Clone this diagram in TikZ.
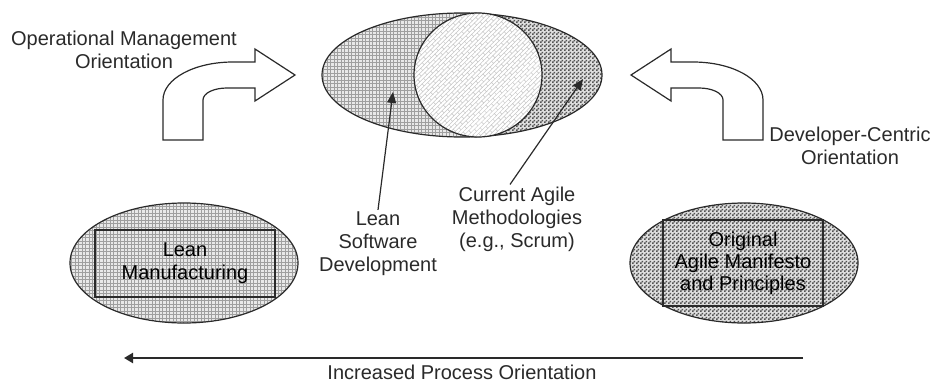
\documentclass[tikz,border=0pt]{standalone}
\usepackage{fontspec}
\setmainfont{Liberation Sans}
\usetikzlibrary{patterns,patterns.meta,arrows.meta}
\definecolor{ink}{HTML}{2A2A2A}
\pgfdeclarepattern{
  name=fgrid, type=uncolored,
  bottom left={\pgfpoint{-.5pt}{-.5pt}}, top right={\pgfpoint{4pt}{4pt}},
  tile size={\pgfpoint{3.5pt}{3.5pt}},
  code={\pgfsetlinewidth{0.9pt}
    \pgfpathmoveto{\pgfpoint{-.5pt}{1.75pt}}\pgfpathlineto{\pgfpoint{4pt}{1.75pt}}
    \pgfpathmoveto{\pgfpoint{1.75pt}{-.5pt}}\pgfpathlineto{\pgfpoint{1.75pt}{4pt}}
    \pgfusepath{stroke}}
}
\pgfdeclarepattern{
  name=fcheck, type=uncolored,
  bottom left={\pgfpoint{0pt}{0pt}}, top right={\pgfpoint{4pt}{4pt}},
  tile size={\pgfpoint{4pt}{4pt}},
  code={
    \pgfpathrectangle{\pgfpoint{0pt}{0pt}}{\pgfpoint{2pt}{2pt}}
    \pgfpathrectangle{\pgfpoint{2pt}{2pt}}{\pgfpoint{2pt}{2pt}}
    \pgfusepath{fill}}
}
\pgfdeclarepattern{
  name=dbricks, type=uncolored,
  bottom left={\pgfpoint{-.5pt}{-.5pt}}, top right={\pgfpoint{10.5pt}{6.5pt}},
  tile size={\pgfpoint{10pt}{6pt}},
  tile transformation={\pgftransformrotate{45}},
  code={\pgfsetlinewidth{0.5pt}
    \pgfpathmoveto{\pgfpoint{-.5pt}{0pt}}\pgfpathlineto{\pgfpoint{10.5pt}{0pt}}
    \pgfpathmoveto{\pgfpoint{-.5pt}{3pt}}\pgfpathlineto{\pgfpoint{10.5pt}{3pt}}
    \pgfpathmoveto{\pgfpoint{0pt}{0pt}}\pgfpathlineto{\pgfpoint{0pt}{3pt}}
    \pgfpathmoveto{\pgfpoint{5pt}{3pt}}\pgfpathlineto{\pgfpoint{5pt}{6pt}}
    \pgfusepath{stroke}}
}
\tikzset{
  txt/.style={align=center, text=ink, font=\fontsize{20}{23}\selectfont, inner sep=2pt},
  outline/.style={draw=ink, line width=1.2pt},
  bigarrow/.style={draw=ink, line width=1.2pt, fill=white, line join=miter},
  pointer/.style={draw=ink, line width=1.2pt, -{Triangle[length=11pt,width=9pt]}},
  axisarrow/.style={draw=ink, line width=2.4pt, -{Triangle[length=9pt,width=10pt]}},
  gridfill/.style={fill=gray!18, postaction={pattern=fgrid, pattern color=gray!75}},
  checkfill/.style={fill=gray!25, postaction={pattern=fcheck, pattern color=gray!65!black}},
  brickfill/.style={fill=white, postaction={pattern=dbricks, pattern color=gray!45}},
  boxnode/.style={txt, text=black, draw=ink, line width=1.2pt, inner sep=0pt}
}
\begin{document}
\begin{tikzpicture}[x=1pt, y=-1pt]
\useasboundingbox (0,0) rectangle (933,383);

% ---- central Venn-like figure
\path[gridfill] (462,75) ellipse [x radius=140, y radius=62];
\begin{scope}
  \clip (462,75) ellipse [x radius=140, y radius=62];
  \path[checkfill] (478,0) rectangle (610,150);
\end{scope}
\draw[outline] (462,75) ellipse [x radius=140, y radius=62];
\path[brickfill] (478,75) ellipse [x radius=64, y radius=62];
\draw[outline] (478,75) ellipse [x radius=64, y radius=62];

% ---- big curved arrows
\draw[bigarrow] (163,140) -- (163,100) .. controls (163,79) and (194,62) .. (233,62)
  -- (255,62) -- (255,49) -- (295,75) -- (255,101) -- (255,88) -- (227,88)
  .. controls (214,88) and (203,93) .. (203,100) -- (203,140) -- cycle;
\draw[bigarrow] (763,140) -- (763,100) .. controls (763,79) and (732,62) .. (693,62)
  -- (671,62) -- (671,49) -- (631,75) -- (671,101) -- (671,88) -- (699,88)
  .. controls (712,88) and (723,93) .. (723,100) -- (723,140) -- cycle;

% ---- orientation labels
\node[txt] (opm) at (124,50) {Operational Management\\Orientation};
\node[txt] (dev) at (850,146) {Developer-Centric\\Orientation};

% ---- pointer labels
\node[txt] (lsd) at (378,244) {Lean\\Software\\Development};
\node[txt] (cam) at (517,219) {Current Agile\\Methodologies\\(e.g., Scrum)};
\coordinate (lsdtip) at (393,92);
\coordinate (camtip) at (583,79);
\draw[pointer] (lsd.north) -- (lsdtip);
\draw[pointer] ([xshift=-7pt]cam.north) -- (camtip);

% ---- bottom ellipses
\path[gridfill] (184,263) ellipse [x radius=114, y radius=60];
\draw[outline] (184,263) ellipse [x radius=114, y radius=60];
\node[boxnode, minimum width=180pt, minimum height=67pt] (lm) at (185,263.5) {Lean\\Manufacturing};

\path[checkfill] (744,263) ellipse [x radius=114, y radius=60];
\draw[outline] (744,263) ellipse [x radius=114, y radius=60];
\node[boxnode, minimum width=160pt, minimum height=86pt, font=\fontsize{20}{22}\selectfont] (oam) at (743,263) {Original\\Agile Manifesto\\and Principles};

% ---- process orientation axis
\coordinate (axR) at (803,358);
\coordinate (axL) at (124,358);
\draw[axisarrow] (axR) -- (axL);
\node[txt] (ipo) at (462,372) {Increased Process Orientation};
\end{tikzpicture}
\end{document}
